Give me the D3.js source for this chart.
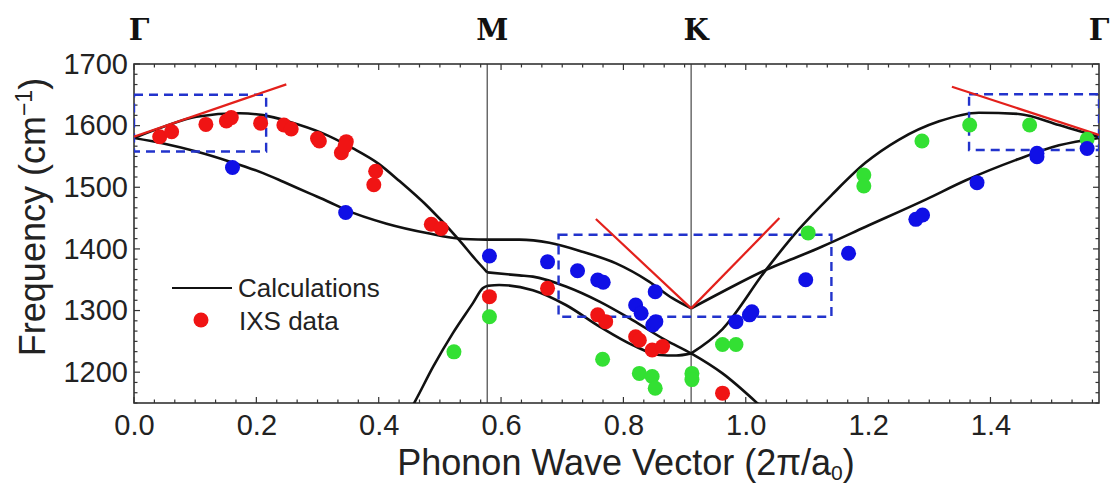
<!DOCTYPE html>
<html><head><meta charset="utf-8">
<script src="https://cdn.jsdelivr.net/npm/d3@7"></script>
<style>body{margin:0;background:#fff;}svg{display:block;}</style>
</head><body>
<svg id="chart" width="1111" height="484"></svg>
<script>
// ---------- data ----------
const symLabels = ["Γ", "M", "K", "Γ"];
const symQ = [0, 0.5774, 0.9107, 1.5774];
const xTickValues = [0, 0.2, 0.4, 0.6, 0.8, 1.0, 1.2, 1.4];
const xTickLabels = ["0.0", "0.2", "0.4", "0.6", "0.8", "1.0", "1.2", "1.4"];
const yTickValues = [1200, 1300, 1400, 1500, 1600, 1700];
const yTickLabels = ["1200", "1300", "1400", "1500", "1600", "1700"];
const xDomain = [0, 1.5774];
const yDomain = [1150, 1700];

// calculated dispersion branches [q, frequency]
const calcLO_GM = [[0,1580],[0.048,1598],[0.102,1614.5],[0.173,1620],[0.211,1617],[0.255,1606],[0.305,1589],[0.358,1563],[0.40,1538],[0.434,1510],[0.483,1466],[0.532,1414],[0.559,1382],[0.5774,1362]];
const calcTO_GM = [[0,1580],[0.048,1571],[0.102,1558],[0.157,1541.5],[0.211,1523],[0.244,1509],[0.287,1490],[0.317,1477],[0.347,1463],[0.413,1441],[0.483,1425],[0.53,1417],[0.5774,1415]];
const calcLA_GM = [[0.44,1120],[0.459,1152],[0.489,1209],[0.521,1263],[0.554,1312],[0.570,1336],[0.5774,1340]];
const calcTO_MK = [[0.5774,1415],[0.63,1415],[0.679,1410],[0.733,1395.5],[0.788,1376.5],[0.842,1347],[0.880,1320],[0.9107,1303.5]];
const calcLO_MK = [[0.5774,1362],[0.63,1357],[0.652,1355],[0.706,1339],[0.761,1314.5],[0.815,1284.5],[0.869,1252],[0.9107,1230.5],[0.962,1198],[1.019,1149.5],[1.04,1130]];
const calcLA_MK = [[0.5774,1340],[0.597,1341.5],[0.652,1333],[0.706,1309],[0.761,1274],[0.815,1244],[0.859,1228],[0.886,1227],[0.9107,1230.5]];
const calcLO_KG = [[0.9107,1230.5],[0.962,1270],[1.033,1366],[1.087,1432],[1.141,1488],[1.196,1540],[1.250,1577],[1.316,1607],[1.381,1621],[1.446,1619],[1.512,1601],[1.566,1585],[1.5774,1582]];
const calcTO_KG = [[0.9107,1303.5],[0.962,1330.5],[1.033,1366],[1.087,1388],[1.125,1404],[1.196,1436],[1.294,1480],[1.359,1511],[1.441,1544],[1.512,1568],[1.5774,1580]];

// IXS data [q, frequency]
const ixsRed = [[0.042,1582],[0.0615,1590],[0.1175,1602],[0.151,1607.5],[0.159,1613],[0.207,1604],[0.245,1601],[0.257,1594.5],[0.300,1579],[0.303,1575],[0.339,1556],[0.347,1574],[0.345,1567],[0.395,1526],[0.392,1504],[0.486,1440],[0.502,1433],[0.581,1322.5],[0.676,1336],[0.758,1293],[0.771,1282],[0.820,1257.5],[0.826,1252],[0.847,1236],[0.864,1241.5],[0.962,1166]];
const ixsBlue = [[0.161,1532],[0.346,1459],[0.581,1388.5],[0.676,1379],[0.725,1364.5],[0.758,1349.5],[0.767,1346],[0.852,1330.5],[0.820,1309],[0.829,1295.5],[0.848,1276.5],[0.853,1282],[0.984,1282],[1.006,1293],[1.010,1298],[1.098,1350],[1.168,1393],[1.278,1448],[1.289,1455],[1.378,1507.5],[1.476,1549.5],[1.476,1555],[1.558,1563]];
const ixsGreen = [[0.523,1233],[0.581,1290],[0.766,1221],[0.826,1198],[0.847,1193],[0.852,1174],[0.912,1198],[0.912,1188],[0.962,1245],[0.984,1245],[1.102,1426],[1.193,1520],[1.193,1502],[1.288,1575],[1.366,1601],[1.464,1601],[1.558,1578]];

// red slope lines and dashed boxes
const slopeLines = [[[0,1582],[0.249,1667]],[[0.755,1448.5],[0.9107,1303.5]],[[0.9107,1303.5],[1.055,1450]],[[1.337,1663],[1.5774,1585]]];
const boxes = [[0,0.216,1558,1650],[0.694,1.14,1290,1423],[1.365,1.5774,1560.5,1651]];

const legendLabels = ["Calculations", "IXS data"];

// ---------- layout ----------
const L = 134, R = 1099, T = 64, B = 403;
const svg = d3.select("#chart");
const x = d3.scaleLinear().domain(xDomain).range([L, R]);
const y = d3.scaleLinear().domain(yDomain).range([B, T]);
const sans = "'Liberation Sans', Arial, sans-serif";

svg.append("defs").append("clipPath").attr("id","plotclip")
  .append("rect").attr("x",L).attr("y",T).attr("width",R-L).attr("height",B-T);

// symmetry lines
svg.append("g").selectAll("line").data(symQ.slice(1,3)).join("line")
  .attr("x1",d=>x(d)).attr("x2",d=>x(d)).attr("y1",T).attr("y2",B)
  .attr("stroke","#555").attr("stroke-width",1.3);

// frame ticks (inward)
const minorX = d3.range(0, xDomain[1]+1e-9, 0.2/6);
const minorY = d3.range(1150, 1700+1e-9, 100/6);
const tk = svg.append("g").attr("stroke","#333").attr("stroke-width",1.2);
minorX.forEach(v=>{
  const major = Math.abs(v/0.2 - Math.round(v/0.2))<1e-6;
  const len = major?6:3.5;
  tk.append("line").attr("x1",x(v)).attr("x2",x(v)).attr("y1",B).attr("y2",B-len);
  tk.append("line").attr("x1",x(v)).attr("x2",x(v)).attr("y1",T).attr("y2",T+len);
});
minorY.forEach(v=>{
  const major = Math.abs((v)/100 - Math.round(v/100))<1e-6;
  const len = major?6:3.5;
  tk.append("line").attr("y1",y(v)).attr("y2",y(v)).attr("x1",L).attr("x2",L+len);
  tk.append("line").attr("y1",y(v)).attr("y2",y(v)).attr("x1",R).attr("x2",R-len);
});

// axes labels via d3 axes (ticks hidden)
const xAxis = d3.axisBottom(x).tickValues(xTickValues).tickFormat((d,i)=>xTickLabels[i]).tickSize(0).tickPadding(0);
const gx = svg.append("g").attr("transform",`translate(0,${B})`).call(xAxis);
gx.select(".domain").remove();
gx.selectAll("text").attr("font-family",sans).attr("font-size",29).attr("fill","#222").attr("dy",null).attr("y",32);
const yAxis = d3.axisLeft(y).tickValues(yTickValues).tickFormat((d,i)=>yTickLabels[i]).tickSize(0).tickPadding(6);
const gy = svg.append("g").attr("transform",`translate(${L},0)`).call(yAxis);
gy.select(".domain").remove();
gy.selectAll("text").attr("font-family",sans).attr("font-size",29).attr("fill","#222");

// frame
svg.append("rect").attr("x",L).attr("y",T).attr("width",R-L).attr("height",B-T)
  .attr("fill","none").attr("stroke","#333").attr("stroke-width",1.6);

// symmetry labels
svg.append("g").selectAll("text").data(symLabels).join("text")
  .attr("x",(d,i)=>x(symQ[i]) + (i===3?0:5)).attr("y",40).attr("text-anchor","middle")
  .attr("font-family","'DejaVu Serif', serif").attr("font-weight","bold").attr("font-size",29)
  .attr("fill","#111").text(d=>d);

const plot = svg.append("g").attr("clip-path","url(#plotclip)");
const line = d3.line().x(d=>x(d[0])).y(d=>y(d[1])).curve(d3.curveMonotoneX);

// curves
[calcLO_GM, calcTO_GM, calcLA_GM, calcTO_MK, calcLO_MK, calcLA_MK, calcLO_KG, calcTO_KG].forEach(b=>{
  plot.append("path").attr("d",line(b)).attr("fill","none").attr("stroke","#111").attr("stroke-width",2.6);
});

// dashed boxes
boxes.forEach(b=>{
  plot.append("rect").attr("x",x(b[0])).attr("y",y(b[3])).attr("width",x(b[1])-x(b[0])).attr("height",y(b[2])-y(b[3]))
    .attr("fill","none").attr("stroke","#2233cc").attr("stroke-width",2.4).attr("stroke-dasharray","9,6");
});

// red slope lines
const straight = d3.line().x(d=>x(d[0])).y(d=>y(d[1]));
slopeLines.forEach(s=>{
  plot.append("path").attr("d",straight(s)).attr("stroke","#e3201b").attr("stroke-width",2.2).attr("fill","none");
});

// data points
const dots = [[ixsRed,"#f01414"],[ixsGreen,"#33e033"],[ixsBlue,"#1010e6"]];
dots.forEach(([arr,c])=>{
  plot.append("g").selectAll("circle").data(arr).join("circle")
    .attr("cx",d=>x(d[0])).attr("cy",d=>y(d[1])).attr("r",7.5).attr("fill",c);
});

// legend
svg.append("line").attr("x1",172).attr("x2",232).attr("y1",288).attr("y2",288).attr("stroke","#111").attr("stroke-width",2.2);
svg.append("text").attr("x",238).attr("y",297).attr("font-family",sans).attr("font-size",26).attr("fill","#222").text(legendLabels[0]);
svg.append("circle").attr("cx",201).attr("cy",320).attr("r",7.5).attr("fill","#f01414");
svg.append("text").attr("x",239).attr("y",330).attr("font-family",sans).attr("font-size",26).attr("fill","#222").text(legendLabels[1]);

// axis titles
const xt = svg.append("text").attr("x",626).attr("y",475).attr("text-anchor","middle")
  .attr("font-family",sans).attr("font-size",36).attr("fill","#222");
xt.append("tspan").text("Phonon Wave Vector (2π/a");
xt.append("tspan").attr("font-size",21).attr("dy",5).text("0");
xt.append("tspan").attr("dy",-5).text(")");

const yt = svg.append("text").attr("transform","translate(45,217) rotate(-90)").attr("text-anchor","middle")
  .attr("font-family",sans).attr("font-size",36).attr("fill","#222");
yt.append("tspan").text("Frequency (cm");
yt.append("tspan").attr("font-size",23).attr("dy",-13).text("−1");
yt.append("tspan").attr("dy",13).text(")");
</script>
</body></html>
